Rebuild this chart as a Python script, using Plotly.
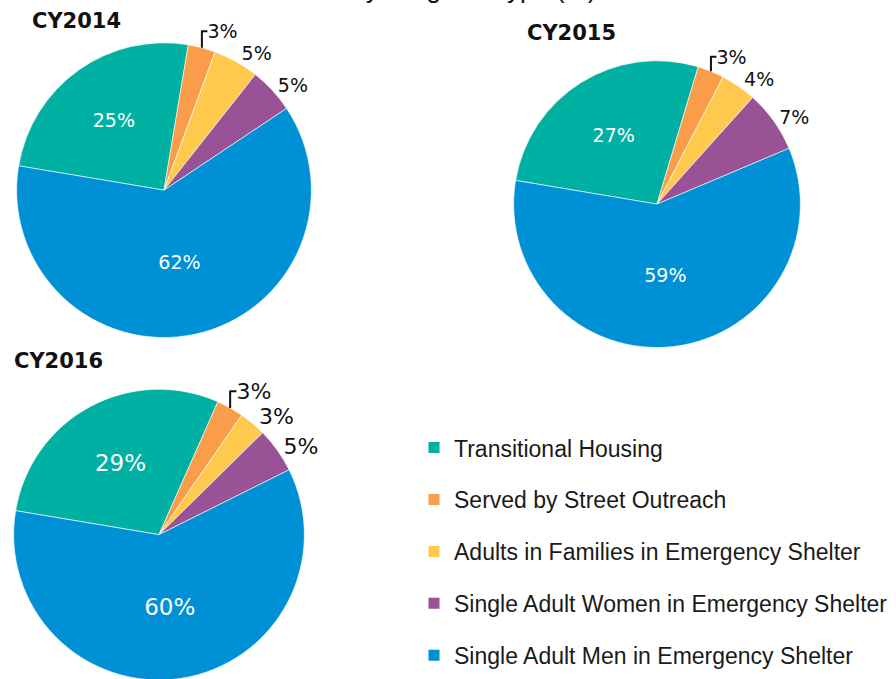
import plotly.graph_objects as go

categories = ["Transitional Housing", "Served by Street Outreach",
              "Adults in Families in Emergency Shelter",
              "Single Adult Women in Emergency Shelter",
              "Single Adult Men in Emergency Shelter"]
colors = ["#00B0A2", "#F99D4B", "#FFC94D", "#9A5297", "#0090D6"]
years = ["CY2014", "CY2015", "CY2016"]
vals_2014 = [25, 3, 5, 5, 62]
vals_2015 = [27, 3, 4, 7, 59]
vals_2016 = [29, 3, 3, 5, 60]
title_text = "Clients Served by Program Type (%)"

W, H = 896, 685

def dom(cx, cy, r):
    return dict(x=[(cx - r) / W, (cx + r) / W], y=[1 - (cy + r) / H, 1 - (cy - r) / H])

pies = [
    (vals_2014, dom(164, 191, 148), 19, 19),
    (vals_2015, dom(657, 205, 144), 19, 19),
    (vals_2016, dom(159, 537, 146), 23, 22),
]

fig = go.Figure()
positions = ["inside", "outside", "outside", "outside", "inside"]
for vals, d, fin, fout in pies:
    fig.add_trace(go.Pie(
        labels=categories, values=vals, domain=d, sort=False,
        direction="clockwise", rotation=-80.5,
        marker=dict(colors=colors, line=dict(color="white", width=0.6)),
        texttemplate="%{value}%", textposition=positions,
        insidetextorientation="horizontal",
        insidetextfont=dict(family="DejaVu Sans", size=fin, color="white"),
        outsidetextfont=dict(family="DejaVu Sans", size=fout, color="#111111"),
        showlegend=False, hoverinfo="label+value",
    ))

for i, (c, col) in enumerate(zip(categories, colors)):
    fig.add_trace(go.Scatter(
        x=[None], y=[None], mode="markers", name=c, legendgroup=str(i),
        marker=dict(symbol="square", size=11, color=col), showlegend=True,
    ))

annotations = []
title_pos = [(30, 21), (525, 33), (12, 363)]
for yr, (tx, ty) in zip(years, title_pos):
    annotations.append(dict(text=yr, x=tx / W, y=1 - ty / H, xref="paper", yref="paper",
                            xanchor="left", yanchor="middle", showarrow=False,
                            font=dict(family="DejaVu Sans", size=21, color="#111111", weight="bold")))
annotations.append(dict(text=title_text, x=598 / W, y=1 - 6 / H, xref="paper", yref="paper",
                        xanchor="right", yanchor="bottom", showarrow=False,
                        font=dict(family="Liberation Sans", size=26, color="#111111")))

fig.update_layout(
    width=W, height=H, margin=dict(l=0, r=0, t=0, b=0),
    paper_bgcolor="white", plot_bgcolor="white",
    xaxis=dict(visible=False), yaxis=dict(visible=False),
    annotations=annotations,
    legend=dict(x=414 / W, y=1 - 428 / H, xanchor="left", yanchor="top",
                font=dict(family="Liberation Sans", size=23, color="#1a1a1a"),
                tracegroupgap=19, itemwidth=30, bgcolor="rgba(0,0,0,0)"),
)

fig.write_html("out.html", config={"displayModeBar": False},
               post_script="document.body.style.margin='0';document.body.style.overflow='hidden';")
